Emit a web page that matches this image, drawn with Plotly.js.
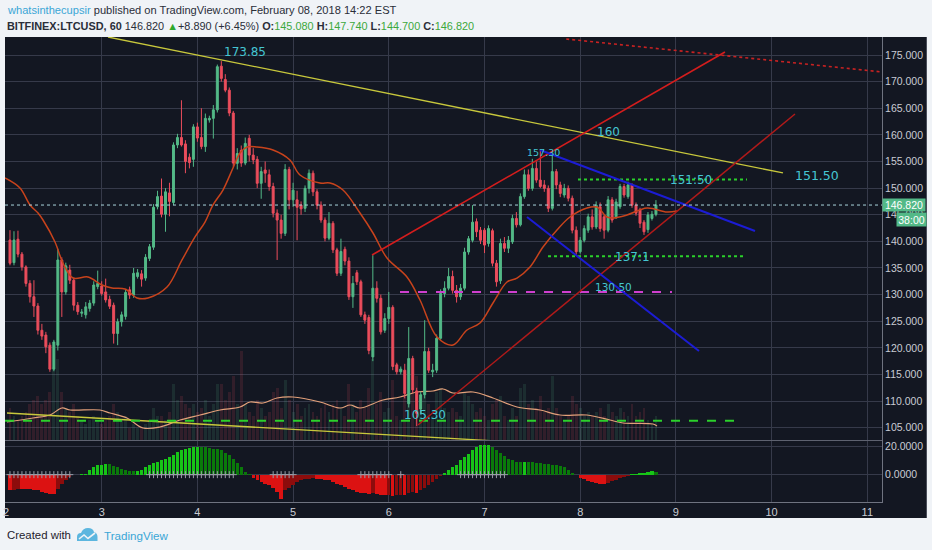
<!DOCTYPE html>
<html><head><meta charset="utf-8">
<script src="https://cdn.plot.ly/plotly-3.0.1.min.js"></script>
<style>html,body{margin:0;padding:0;background:#f0f3f7;}#chart{width:932px;height:550px;}</style>
</head><body><div id="chart"></div>
<script>
// ---------- DATA (hourly candles, BITFINEX:LTCUSD 60) ----------
const candleOpen = [140.25,136.0,140.4,137.6,135.2,132.1,129.6,127.85,123.3,122.4,
120.5,116.0,120.5,136.5,130.5,134.6,132.7,128.0,126.5,126.2,
127.4,128.4,131.5,131.6,130.5,129.1,128.0,122.7,124.9,125.9,
130.9,129.9,133.4,133.9,133.1,136.8,138.9,146.5,148.5,145.1,
149.1,147.3,158.1,159.5,158.3,155.8,155.4,161.5,159.5,157.8,
162.8,163.1,164.7,172.9,170.4,168.4,164.1,154.65,157.1,154.7,
159.35,156.2,155.4,150.9,153.4,152.5,150.3,145.3,144.0,141.5,
153.5,147.8,147.8,146.8,146.2,149.95,152.8,149.3,146.8,144.0,
140.6,143.4,138.4,134.0,138.5,136.3,129.6,134.1,132.4,126.2,
125.7,118.3,131.2,129.3,123.3,125.5,127.6,116.8,115.5,115.8,
109.5,118.0,111.9,108.5,111.2,119.3,115.5,115.8,121.8,130.2,
131.2,133.4,130.8,129.6,131.2,138.0,140.2,143.7,142.1,142.1,
139.6,142.0,135.9,132.6,139.6,138.7,139.9,144.3,143.1,148.4,
152.5,149.95,153.7,151.5,150.6,149.95,146.2,153.1,150.6,148.7,
149.95,148.1,142.1,138.05,140.2,142.1,144.6,142.7,146.5,144.6,
142.1,147.8,144.6,146.5,150.3,148.4,150.6,146.8,145.9,143.6,
142.2,144.3,145.08];
const candleHigh = [142.1,141.9,142.0,138.0,135.5,132.7,132.7,128.4,124.5,123.0,
121.0,121.5,138.6,137.0,136.0,135.6,133.2,128.6,127.3,128.6,
129.0,132.5,134.5,132.5,133.0,129.8,128.5,125.5,126.8,131.0,
131.5,135.0,134.8,134.6,137.6,139.5,147.0,149.5,151.8,150.0,
151.0,158.6,160.2,166.5,159.0,156.5,162.0,162.3,165.0,164.0,
163.6,165.6,173.2,173.85,171.4,168.9,164.5,157.5,158.0,159.5,
160.0,157.5,156.0,154.0,155.0,153.5,151.0,146.0,145.0,154.5,
154.0,151.0,149.5,147.5,150.5,153.5,153.3,149.8,147.5,144.5,
145.5,143.8,138.8,140.5,139.0,137.0,133.5,134.6,132.8,126.8,
126.2,137.4,132.5,130.0,126.5,130.5,128.0,117.2,116.5,117.0,
123.9,118.5,112.5,111.8,125.2,120.0,117.0,122.5,131.0,132.5,
135.0,134.5,131.8,132.0,138.8,141.0,146.8,144.3,142.7,142.5,
143.0,142.4,136.5,140.5,140.8,141.0,145.0,145.5,149.0,153.5,
153.5,155.5,155.0,157.3,151.5,150.5,156.2,153.6,151.2,150.8,
150.5,148.6,142.8,140.8,143.0,145.2,146.0,147.5,147.3,145.0,
148.5,148.3,148.0,150.8,150.8,151.2,150.9,147.3,146.3,144.0,
145.5,145.7,147.74];
const candleLow = [135.5,135.5,137.0,134.5,131.5,128.5,125.8,122.5,121.5,119.0,
115.5,115.6,119.5,125.8,130.0,132.0,127.0,126.2,125.8,125.5,
126.8,127.9,131.0,129.8,128.5,127.3,120.8,120.5,124.0,125.3,
129.2,129.4,133.0,131.5,132.6,136.3,138.4,146.0,144.5,141.8,
144.7,146.8,157.5,157.8,152.8,153.7,154.0,158.7,157.3,156.8,
162.3,159.3,164.2,170.0,168.0,163.5,154.0,153.5,154.0,154.3,
155.0,154.5,150.0,148.0,151.0,149.5,144.5,136.5,140.5,141.0,
146.0,146.5,140.2,145.0,145.5,149.0,148.5,146.0,143.5,140.0,
140.2,137.8,133.5,133.5,135.5,129.0,127.5,131.8,125.8,124.5,
118.8,117.5,128.5,122.5,122.8,124.5,115.8,115.0,115.0,110.5,
108.8,111.5,105.3,107.5,110.5,115.3,114.5,115.3,121.5,129.5,
130.8,130.2,128.5,129.0,130.8,137.5,139.8,140.8,139.5,137.8,
139.0,135.3,131.5,132.0,138.0,137.8,139.5,142.6,142.8,148.0,
149.5,149.5,151.0,150.0,149.3,145.5,145.8,149.8,148.3,148.2,
147.5,141.5,137.5,137.7,139.8,141.6,142.2,142.3,141.8,140.5,
141.7,143.5,144.2,146.1,148.2,148.0,146.3,144.8,142.5,141.2,
141.6,143.9,144.7];
const candleClose = [135.9,140.25,137.6,135.2,132.1,129.6,127.85,123.3,122.2,120.2,
116.0,121.1,136.5,130.5,135.4,132.7,128.0,126.8,126.7,127.7,
128.4,131.8,132.1,130.2,129.0,127.8,122.7,124.9,126.2,130.4,
129.9,134.0,134.1,132.9,137.0,139.0,146.4,148.4,145.1,149.3,
147.5,158.1,159.5,158.1,155.0,154.8,161.5,159.4,157.8,163.1,
163.1,164.7,172.8,170.6,168.4,164.1,154.7,156.5,154.7,158.4,
156.2,155.3,150.9,153.1,152.8,150.3,145.3,144.0,141.5,153.5,
147.8,149.6,146.4,146.1,149.95,152.8,149.3,146.8,144.0,140.6,
143.4,138.4,134.0,138.1,136.3,129.6,132.1,132.4,126.2,125.2,
119.5,131.2,129.3,123.0,125.5,127.6,116.5,115.5,116.0,111.4,
118.0,112.1,107.7,111.2,119.3,115.8,115.8,121.8,130.2,131.2,
133.4,130.8,129.6,131.2,138.0,140.5,143.6,141.8,140.2,139.3,
142.4,135.9,132.4,139.6,138.7,140.2,144.3,143.1,148.4,152.5,
149.95,153.7,151.5,150.3,149.95,146.2,153.1,150.6,149.0,149.95,
148.1,142.1,138.05,140.2,142.4,144.6,142.7,146.8,142.4,142.1,
147.8,144.0,147.4,150.3,148.7,150.6,146.8,145.3,143.4,141.8,
144.95,145.08,146.82];
const volume = [8,6,5,6,7,9,10,11,9,10,
12,18,20,12,8,7,9,6,5,4,
5,6,5,4,5,6,9,7,5,6,
3,4,3,3,4,5,8,6,6,5,
7,14,10,11,9,8,9,7,8,10,
6,9,14,14,10,12,16,9,22,9,
7,6,10,8,6,7,12,13,8,15,
10,7,9,6,8,9,7,6,8,9,
7,9,10,8,6,14,9,7,10,8,
13,20,9,12,7,8,15,6,5,11,
19,12,16,9,17,9,6,12,13,8,
7,8,7,6,12,11,9,7,8,6,
5,9,10,11,6,5,8,6,13,14,
9,10,8,11,7,8,16,8,6,5,
6,11,9,8,6,7,6,7,8,6,
9,7,6,8,7,6,9,6,7,8,
5,4,6];
// moving average of price, hours from Feb 2 00:00
const maHours = [-0.25,3.51,6.02,8.03,9.28,12.29,14.29,16.8,20.56,24.08,26.58,29.84,32.85,35.61,40.38,44.14,47.4,49.91,51.91,54.42,56.93,58.68,60.44,62.95,66.96,71.22,73.73,78.75,81.25,84.51,88.78,92.04,95.55,100.56,103.82,108.09,112.1,115.61,118.87,122.13,125.64,128.15,131.41,134.67,138.18,141.44,145.7,148.21,150.72,152.23,155.74,160.75,165.77,168.28];
const maValues = [151.9,150.02,146.83,145.32,144.01,139.88,135.93,133.11,133.3,131.8,131.24,131.05,129.36,129.36,131.42,136.5,140.82,143.63,146.83,149.64,153.78,156.59,157.72,157.72,157.16,155.28,152.46,150.96,150.96,149.64,145.32,141.57,136.87,133.3,128.98,122.03,120.53,123.35,124.66,128.42,132.36,133.11,135.18,138.94,142.13,144.57,146.26,146.45,144.57,144.38,144.95,146.26,145.51,145.7];
// moving average of volume
const vmaHours = [0.25,6.77,11.03,14.04,16.05,23.57,26.08,30.34,34.36,38.62,43.64,48.65,53.67,58.68,61.19,64.45,67.96,71.97,78.75,83.76,86.27,88.78,94.55,98.81,103.07,107.09,109.59,112.1,117.12,122.13,128.15,133.92,138.93,145.7,151.47,154.73,162.26,163.26];
const vmaValues = [4.47,5.46,6.2,7.94,7.44,7.44,6.7,5.46,2.98,3.23,4.96,6.2,7.44,8.19,9.43,9.18,10.42,10.67,9.43,7.94,8.68,7.94,9.93,10.67,11.91,12.16,12.66,11.66,11.91,10.42,8.19,7.44,6.2,6.2,4.96,4.22,3.97,3.47];
// squeeze momentum histogram
const momentum = [-11,-10.5,-10,-10,-10,-10.2,-10.5,-11,-12,-13,
-13.5,-13.7,-10,-6.5,-4,-1.5,-0.3,-0.2,0.2,0.5,
3,5,6.5,7,7.7,7.5,6,5,4,3,
2.6,2.5,2.8,3.5,5,6.5,8,9,10,11,
12,14,15.8,17,18,18.8,19,19.3,19.2,19,
18.5,18,17.8,17,15,14,11,8,5,2,
0.5,-2,-3.5,-5,-6.5,-7.5,-9,-12,-16.8,-11,
-9,-7,-5,-4,-3,-2.8,-2.5,-2.8,-2.8,-3.5,
-4,-5,-6.5,-7.5,-8.5,-10,-11,-12,-12.5,-13,
-13.5,-12.5,-13.5,-14,-14.5,-14,-14.7,-14.5,-14,-14.5,
-13,-12,-12.5,-11,-9,-7,-5,-3,-1,1.5,
3,5,7,9.9,12,14.5,17,19,20.5,20.5,
20.5,19.5,17,15,13,11.2,10,9,8.9,9,
8.8,8.5,8.2,7.8,7.5,7.2,7,6.5,6.2,5,
3,1,-0.5,-2,-3,-4.4,-5,-5.8,-6.3,-6.3,
-5.5,-4.5,-3.5,-2.5,-1.7,-0.8,0.3,0.8,1.2,1.5,
2.2,2.6,1.8];
const squeezeOffRanges = [[0,15],[35,56],[66,71],[88,95],[98,98],[113,124]];
// drawings: [hourStart, hourEnd], [priceStart, priceEnd]
const yellowTopH = [25.58,194.86], yellowTopP = [178.38,152.84];
const yellowLowH = [0.25,123.89], yellowLowP = [107.76,102.46];
const redUpperH = [91.79,180.31], redUpperP = [137.43,175.56];
const redLowerH = [103.32,197.87], redLowerP = [105.50,163.92];
const redDotH = [140.5,219.69], redDotP = [178.0,171.81];
const blueUpperH = [133.92,187.84], blueUpperP = [157.16,141.94];
const blueLowerH = [130.66,173.79], blueLowerP = [144.57,119.40];
const levelHiH = [143.45,185.83], levelHi = 151.6;
const levelLoH = [135.93,184.83], levelLo = 137.2;
const magentaH = [98.81,167.02], magentaLevel = 130.5;
const supportH = [-0.25,183.8], supportLevel = 106.3;
const lastPrice = 146.82;
const labelTexts = ['173.85','160','151.50','157.30','151:50','137:1','130.50','105.30'];
const priceTicks = [105,110,115,120,125,130,135,140,145,150,155,160,165,170,175];
const momTicks = [0,20], momTickText = ['0.0000','20.0000'];

// ---------- helpers ----------
const T0 = Date.UTC(2018,1,2), HR = 3600000;
const tx = h => T0 + h*HR;
const PL=5, PR=882, PT=37, PB=502;
const px = X => (X-PL)/(PR-PL);
const py = Y => (PB-Y)/(PB-PT);
const times = candleOpen.map((_, i) => tx(i+1));
const up = candleOpen.map((o,i)=>candleClose[i]>=o);

const GRID='#363a4a', AX='#6f7380', TXT='#c9ccd4', CY='#45c6d2';

const momColors = momentum.map((v,i)=>{
  const p = i>0 ? momentum[i-1] : v;
  if (v>=0) return v>=p ? '#17c417' : '#0a7a0a';
  return v<=p ? '#dc1212' : '#8c0c0c';
});
const sqzX=[], sqzY=[];
squeezeOffRanges.forEach(([a,b])=>{for(let i=a;i<=b;i++){sqzX.push(times[i]);sqzY.push(0);}});

const traces = [
  {type:'bar', x:times, y:volume, yaxis:'y', width:0.72*HR,
   marker:{color:up.map(u=>u?'rgba(83,185,135,0.14)':'rgba(235,77,92,0.14)'), line:{width:0}}, hoverinfo:'skip'},
  {type:'scatter', mode:'lines', x:vmaHours.map(tx), y:vmaValues, yaxis:'y',
   line:{color:'#e3a07a', width:1.2, shape:'spline'}, hoverinfo:'skip'},
  {type:'candlestick', x:times, open:candleOpen, high:candleHigh, low:candleLow, close:candleClose, yaxis:'y3',
   increasing:{line:{color:'#53b987', width:1}, fillcolor:'#53b987'},
   decreasing:{line:{color:'#eb4d5c', width:1}, fillcolor:'#eb4d5c'}, whiskerwidth:0, hoverinfo:'skip'},
  {type:'scatter', mode:'lines', x:maHours.map(tx), y:maValues, yaxis:'y3',
   line:{color:'#c8431c', width:1.5, shape:'spline'}, hoverinfo:'skip'},
  {type:'bar', x:times, y:momentum, yaxis:'y2', width:0.85*HR,
   marker:{color:momColors, line:{width:0}}, hoverinfo:'skip'},
  {type:'scatter', mode:'markers', x:sqzX, y:sqzY, yaxis:'y2',
   marker:{symbol:'cross-thin', size:5, line:{color:'#9a9ea8', width:1}}, hoverinfo:'skip'}
];

function seg(h, p, color, width, dash){
  return {type:'line', xref:'x', yref:'y3', x0:tx(h[0]), x1:tx(h[1]), y0:p[0], y1:p[1],
    line:{color, width, dash:dash||'solid'}, layer:'above'};
}
const shapes = [
  {type:'rect', xref:'paper', yref:'paper', x0:px(5), x1:px(927), y0:py(518), y1:py(37),
   fillcolor:'#131722', line:{width:0}, layer:'below'},
  {type:'line', xref:'paper', yref:'paper', x0:px(5), x1:px(882), y0:py(440.5), y1:py(440.5),
   line:{color:'#5e6270', width:1}, layer:'above'},
  {type:'line', xref:'paper', yref:'paper', x0:px(926.5), x1:px(926.5), y0:py(518), y1:py(37),
   line:{color:'#4a4e5a', width:1}, layer:'above'},
  seg(yellowTopH, yellowTopP, '#c8c83c', 1.3),
  seg(yellowLowH, yellowLowP, '#c8c83c', 1.3),
  seg(supportH, [supportLevel,supportLevel], '#2bd02b', 2, 'dash'),
  seg(magentaH, [magentaLevel,magentaLevel], '#cf3fcf', 2, 'dash'),
  seg(levelHiH, [levelHi,levelHi], '#2bd02b', 2, 'dot'),
  seg(levelLoH, [levelLo,levelLo], '#2bd02b', 2, 'dot'),
  seg(redUpperH, redUpperP, '#d41d1d', 1.6),
  seg(redLowerH, redLowerP, '#b01a1a', 1.5),
  seg(redDotH, redDotP, '#c82222', 1.6, 'dot'),
  seg(blueUpperH, blueUpperP, '#1c1cd4', 2),
  seg(blueLowerH, blueLowerP, '#1c1cd4', 2),
  {type:'line', xref:'paper', yref:'y3', x0:0, x1:1, y0:lastPrice, y1:lastPrice,
   line:{color:'#a9d4dc', width:1, dash:'dot'}, layer:'above'},
  // TradingView logo (cloud)
  {type:'path', xref:'paper', yref:'paper', fillcolor:'#5cb6df', line:{width:0},
   path:`M${px(77)},${py(541)} L${px(77)},${py(537)} Q${px(77)},${py(533)} ${px(81)},${py(533)} Q${px(83)},${py(528)} ${px(88)},${py(528)} Q${px(93)},${py(528)} ${px(94)},${py(532)} Q${px(97.5)},${py(533)} ${px(97.5)},${py(537)} L${px(97.5)},${py(541)} Z`},
  {type:'path', xref:'paper', yref:'paper', line:{color:'#f0f3f7', width:1.6},
   path:`M${px(79)},${py(539)} L${px(84)},${py(535)} L${px(88)},${py(538.5)} L${px(95)},${py(533)}`}
];

const labelPos = [[54.17,175.56,12],[147.71,160.54,12],[197.37,152.46,12.5],[130.16,156.78,9.5],
  [166.02,151.52,12],[152.23,137.06,12],[147.21,131.42,10.5],[99.31,107.38,12]];
const annotations = labelTexts.map((t,i)=>({xref:'x', yref:'y3', x:tx(labelPos[i][0]), y:labelPos[i][1],
  text:t, showarrow:false, xanchor:'left', yanchor:'middle', font:{family:'DejaVu Sans', size:labelPos[i][2], color:CY}}));
annotations.push(
  {xref:'paper', yref:'y3', x:px(904), y:lastPrice, text:'146.820', showarrow:false, xanchor:'center', yanchor:'middle',
   bgcolor:'#53b987', width:42, height:12, borderpad:0, font:{family:'Liberation Sans', size:10.5, color:'#ffffff'}},
  {xref:'paper', yref:'paper', x:px(911), y:py(219.5), text:'38:00', showarrow:false, xanchor:'center', yanchor:'middle',
   bgcolor:'#53b987', width:29, height:13, borderpad:0, font:{family:'Liberation Sans', size:10.5, color:'#ffffff'}},
  {xref:'paper', yref:'paper', x:px(5), y:py(10), xanchor:'left', yanchor:'middle', showarrow:false,
   text:'<span style="color:#3aa6d6">whatsinthecupsir</span> published on TradingView.com, February 08, 2018 14:22 EST',
   font:{family:'Liberation Sans', size:11.1, color:'#2a2e39'}},
  {xref:'paper', yref:'paper', x:px(5), y:py(25.5), xanchor:'left', yanchor:'middle', showarrow:false,
   text:'<b>BITFINEX:LTCUSD, 60</b> 146.820 <span style="color:#2ea82e">▲</span>+8.890 (+6.45%) <b>O:</b><span style="color:#3ca83c">145.080</span> <b>H:</b><span style="color:#3ca83c">147.740</span> <b>L:</b><span style="color:#3ca83c">144.700</span> <b>C:</b><span style="color:#3ca83c">146.820</span>',
   font:{family:'Liberation Sans', size:10.9, color:'#2a2e39'}},
  {xref:'paper', yref:'paper', x:px(5), y:py(535), xanchor:'left', yanchor:'middle', showarrow:false,
   text:'Created with', font:{family:'Liberation Sans', size:11.4, color:'#1e222d'}},
  {xref:'paper', yref:'paper', x:px(102), y:py(535), xanchor:'left', yanchor:'middle', showarrow:false,
   text:'TradingView', font:{family:'Liberation Sans', size:11.6, color:'#3aa6d6'}}
);

const layout = {
  width:932, height:550, margin:{l:PL, r:932-PR, t:PT, b:550-PB, pad:0},
  paper_bgcolor:'#f0f3f7', plot_bgcolor:'rgba(0,0,0,0)', showlegend:false, hovermode:false,
  barmode:'overlay', bargap:0,
  xaxis:{type:'date', range:[tx(-0.25), tx(219.69)], anchor:'y2', dtick:86400000, tick0:T0,
    tickformat:'%-d', showgrid:true, gridcolor:GRID, gridwidth:1, zeroline:false,
    showline:true, linecolor:AX, linewidth:1, ticks:'', tickfont:{family:'Liberation Sans', size:11, color:TXT},
    rangeslider:{visible:false}, fixedrange:true},
  yaxis:{domain:[py(440),1], range:[0,100], visible:false, showgrid:false, fixedrange:true},
  yaxis3:{overlaying:'y', side:'right', anchor:'x', range:[102.69,178.38], tickvals:priceTicks,
    ticktext:priceTicks.map(v=>v.toFixed(3)), showgrid:true, gridcolor:GRID, zeroline:false,
    showline:true, linecolor:AX, ticks:'', tickfont:{family:'Liberation Sans', size:10.5, color:TXT}, fixedrange:true},
  yaxis2:{domain:[0,py(440)], range:[-19.1,24.2], side:'right', anchor:'x', tickvals:momTicks, ticktext:momTickText,
    showgrid:true, gridcolor:GRID, zeroline:false, showline:true, linecolor:AX, ticks:'',
    tickfont:{family:'Liberation Sans', size:10.5, color:TXT}, fixedrange:true},
  shapes, annotations
};
Plotly.newPlot('chart', traces, layout, {staticPlot:true, displayModeBar:false});
</script></body></html>
